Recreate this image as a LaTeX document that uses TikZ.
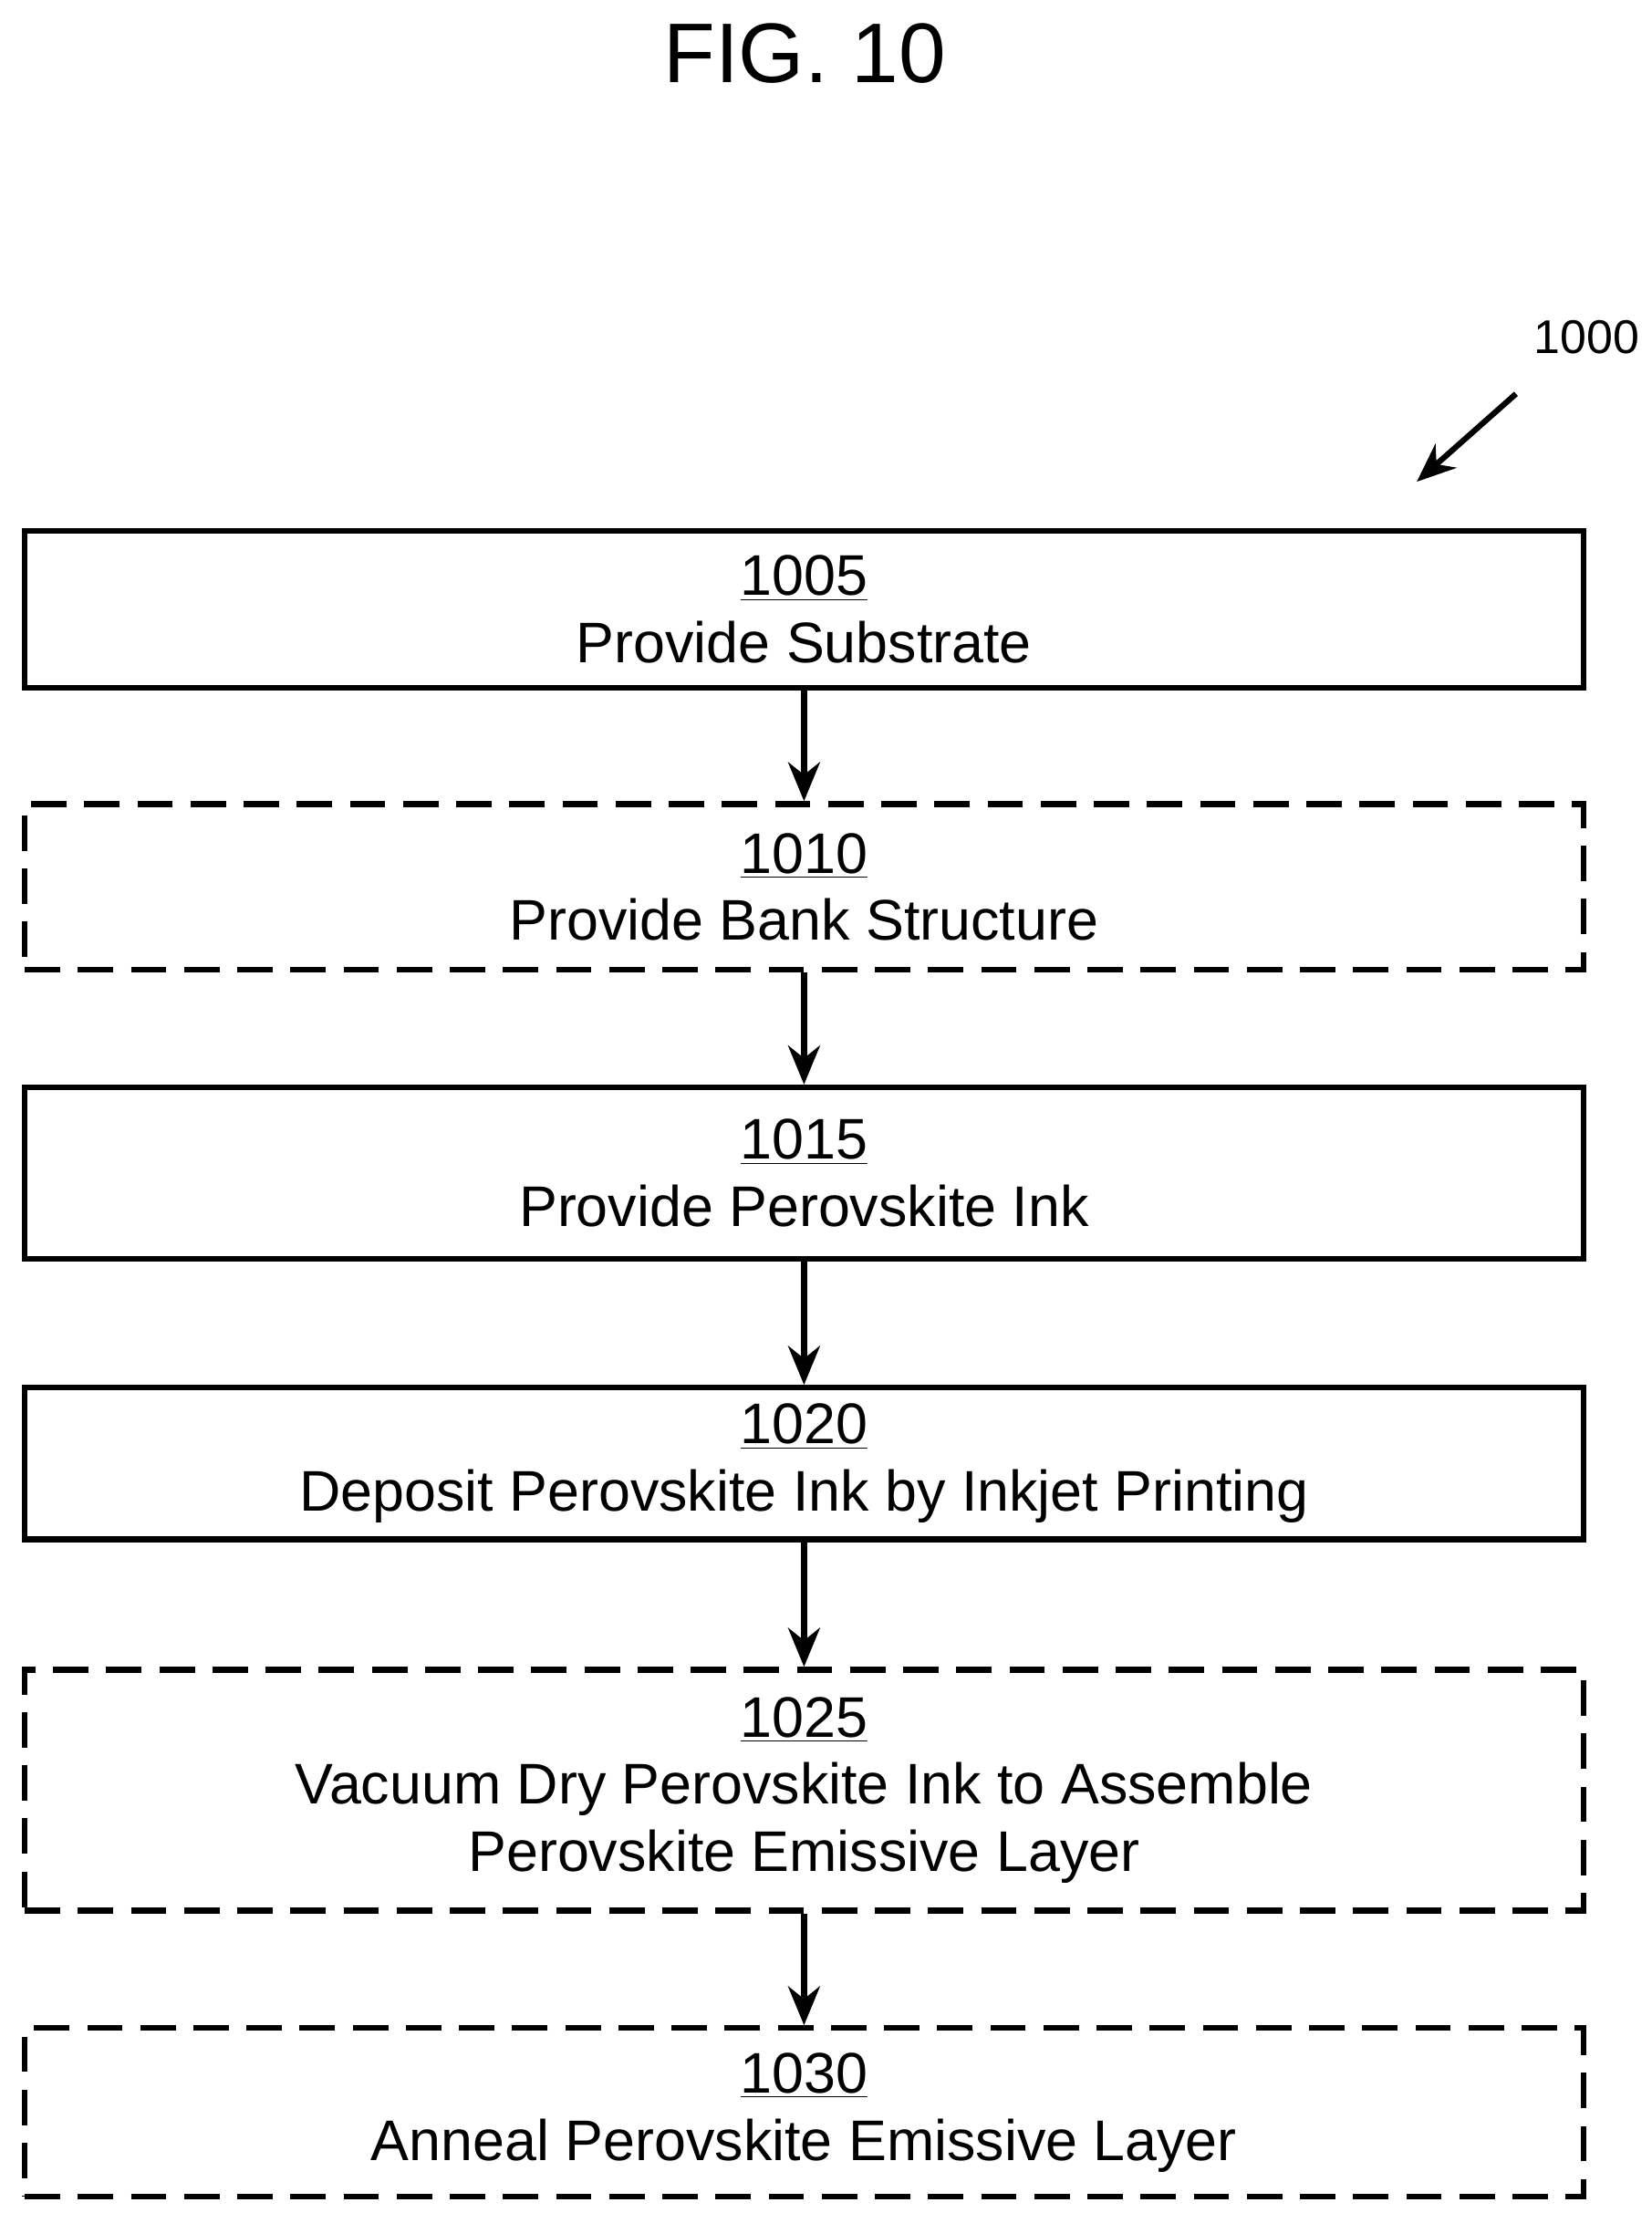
\documentclass[tikz,border=0pt]{standalone}
\usepackage{fontspec}
\setmainfont{Liberation Sans}
\usetikzlibrary{arrows.meta, positioning}

\begin{document}
\begin{tikzpicture}[
        box/.style={rectangle, draw, line width=2.3pt, minimum width=22.0cm, align=center, font=\fontsize{23}{27}\selectfont},
        optbox/.style={box, dash pattern=on 0.5cm off 0.25cm},
        arrow/.style={-{Stealth[length=0.55cm, width=0.45cm]}, line width=2.3pt}
    ]
    \useasboundingbox (0,0) rectangle (23.32,-31.24);

    % Titel
    \node (title) at (11.36,-0.76) {\fontsize{34}{40}\selectfont FIG. 10};
    \node (ref) at (22.4,-4.76) {\fontsize{19}{23}\selectfont 1000};
    \coordinate (reftail) at (21.4,-5.56);
    \coordinate (refhead) at (20.0,-6.8);

    % Schritte
    \node (s1005) [box, minimum height=2.22cm] at (11.35,-8.6) {\underline{1005}\\Provide Substrate};
    \node (s1010) [optbox, minimum height=2.34cm] at (11.35,-12.52) {\underline{1010}\\Provide Bank Structure};
    \node (s1015) [box, minimum height=2.42cm] at (11.35,-16.56) {\underline{1015}\\Provide Perovskite Ink};
    \node (s1020) [box, minimum height=2.14cm] at (11.35,-20.66) {\underline{1020}\\Deposit Perovskite Ink by Inkjet Printing};
    \node (s1025) [optbox, minimum height=3.4cm] at (11.35,-25.27) {\underline{1025}\\Vacuum Dry Perovskite Ink to Assemble\\Perovskite Emissive Layer};
    \node (s1030) [optbox, minimum height=2.38cm] at (11.35,-29.82) {\underline{1030}\\Anneal Perovskite Emissive Layer};

    % Pfeile
    \draw [arrow] (reftail) -- (refhead);
    \draw [arrow] (s1005) -- (s1010);
    \draw [arrow] (s1010) -- (s1015);
    \draw [arrow] (s1015) -- (s1020);
    \draw [arrow] (s1020) -- (s1025);
    \draw [arrow] (s1025) -- (s1030);

\end{tikzpicture}
\end{document}
